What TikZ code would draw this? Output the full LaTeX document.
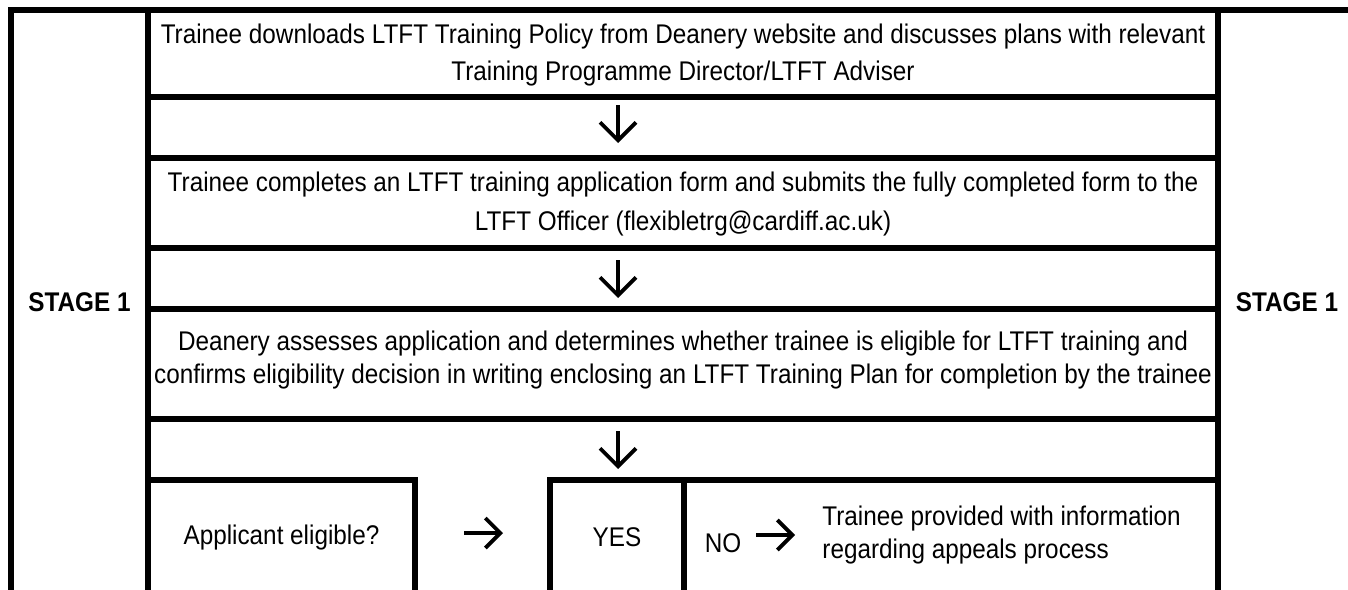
\documentclass[tikz,border=0pt]{standalone}
\usepackage{fontspec}
\setmainfont{Liberation Sans}[FakeStretch=0.9]
\usetikzlibrary{arrows.meta,fit}
\tikzset{
  cellBox/.style={draw=black, line width=2.75pt, inner sep=0pt},
  cellText/.style={inner sep=0pt, align=center, font=\fontsize{13.5}{19}\selectfont},
  stageText/.style={inner sep=0pt, font=\fontsize{13.5}{16}\selectfont\bfseries},
  plainText/.style={inner sep=0pt, align=left, font=\fontsize{13.5}{16.5}\selectfont},
  flowArrow/.style={-{Straight Barb[length=9pt, width=18pt]}, line width=1.9pt},
  sideArrow/.style={-{Straight Barb[length=7.5pt, width=15pt]}, line width=1.9pt}
}

\begin{document}
\begin{tikzpicture}[x=0.5pt, y=-0.5pt]
\useasboundingbox (0,0) rectangle (1348,589);
\clip (0,0) rectangle (1348,589);

\node[cellBox, fit={(11,10) (148,595)}] (stageLeft) {};
\node[cellBox, fit={(1218,10) (1356,595)}] (stageRight) {};
\node[cellBox, fit={(148,10) (1218,97)}] (policyStep) {};
\node[cellBox, fit={(148,158) (1218,248)}] (formStep) {};
\node[cellBox, fit={(148,309) (1218,419)}] (assessStep) {};
\node[cellBox, fit={(148,480) (415,595)}] (eligibleAsk) {};
\node[cellBox, fit={(550,480) (684,595)}] (yesBox) {};
\node[cellBox, fit={(684,480) (1218,595)}] (noBox) {};

\node[stageText] (stageLeftText) at (stageLeft) {STAGE 1};
\node[stageText] (stageRightText) at (stageRight) {STAGE 1};
\node[cellText, font=\fontsize{13.5}{18.5}\selectfont] (policyText) at ([yshift=-1pt]policyStep)
  {Trainee downloads LTFT Training Policy from Deanery website and discusses plans with relevant\\
   Training Programme Director/LTFT Adviser};
\node[cellText, font=\fontsize{13.5}{19.5}\selectfont] (formText) at ([yshift=-0.5pt]formStep)
  {Trainee completes an LTFT training application form and submits the fully completed form to the\\
   LTFT Officer (flexibletrg@cardiff.ac.uk)};
\node[cellText, font=\fontsize{13.5}{16.5}\selectfont] (assessText) at ([yshift=2pt]assessStep)
  {Deanery assesses application and determines whether trainee is eligible for LTFT training and\\
   confirms eligibility decision in writing enclosing an LTFT Training Plan for completion by the trainee};
\node[cellText] (eligibleText) at (eligibleAsk) {Applicant eligible?};
\node[cellText] (yesText) at (yesBox) {YES};

\node[plainText] (noLabel) at (723,543) {NO};
\node[plainText, anchor=west] (appealsInfo) at (822,535)
  {Trainee provided with information\\regarding appeals process};

\coordinate (downOneTop) at (618,105);
\coordinate (downOneTip) at (618,143);
\coordinate (downTwoTop) at (618,260);
\coordinate (downTwoTip) at (618,298);
\coordinate (downThreeTop) at (618,431);
\coordinate (downThreeTip) at (618,469);
\coordinate (askArrowStart) at (464,533);
\coordinate (askArrowTip) at (503,533);
\coordinate (noArrowStart) at (756,535);
\coordinate (noArrowTip) at (795,535);

\draw[flowArrow] (downOneTop) -- (downOneTip);
\draw[flowArrow] (downTwoTop) -- (downTwoTip);
\draw[flowArrow] (downThreeTop) -- (downThreeTip);
\draw[sideArrow] (askArrowStart) -- (askArrowTip);
\draw[sideArrow] (noArrowStart) -- (noArrowTip);
\end{tikzpicture}
\end{document}
